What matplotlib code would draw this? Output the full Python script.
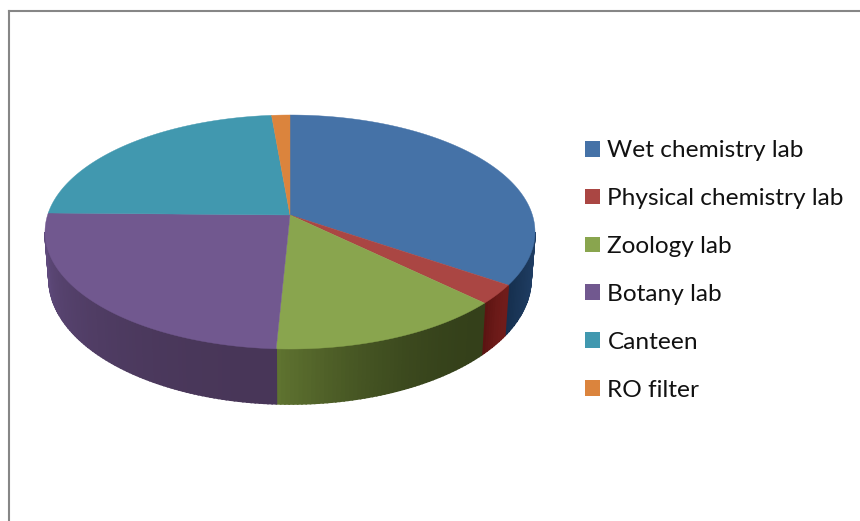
import numpy as np
import matplotlib
matplotlib.use("Agg")
import matplotlib.pyplot as plt
from matplotlib.patches import Patch
from matplotlib.colors import to_rgb

categories = ["Wet chemistry lab", "Physical chemistry lab", "Zoology lab", "Botany lab", "Canteen", "RO filter"]
values = [32.5, 2.9, 15.5, 26.7, 21.2, 1.2]
top_colors = ["#4572A7", "#AA4643", "#89A54E", "#71588F", "#4198AF", "#DB843D"]
side_left = ["#16304f", "#5c1412", "#5f7330", "#5f4a7c", "#24586a", "#8a5020"]
side_right = ["#1f3d63", "#701c1a", "#34401a", "#483658", "#24586a", "#8a5020"]

W, H = 860, 521
CX, CY, RX, RY = 290, 232, 245, 117
APEX_Y = 215                      # perspective: slices meet above the ellipse centre
BOT_CY, BOT_RX, BOT_RY = 279, 241, 125   # lower rim of the wall
plt.rcParams["font.family"] = ["Lato", "DejaVu Sans"]

fig = plt.figure(figsize=(W / 100, H / 100), dpi=100, facecolor="white")

# chart border: only the top and left edges are visible
border = fig.add_axes([8.5 / W, 0, 1 - 8.5 / W, 1 - 10.5 / H], facecolor="none")
border.set_xticks([]); border.set_yticks([])
for name, sp in border.spines.items():
    sp.set_visible(name in ("top", "left"))
    sp.set_color("#868686"); sp.set_linewidth(1.5)

# axes in which the unit circle maps on the pie's top ellipse
ax = fig.add_axes([0, 0, 1, 1], facecolor="none")
ax.set_xlim(-CX / RX, (W - CX) / RX)
ax.set_ylim(-(H - CY) / RY, CY / RY)
ax.axis("off")
apex = (CY - APEX_Y) / RY
bx, by, boff = BOT_RX / RX, BOT_RY / RY, (BOT_CY - CY) / RY

edges = 90 - 3.6 * np.cumsum([0] + values)

# side walls, from the value angles
for i in range(len(values)):
    a0, a1 = edges[i], edges[i + 1]          # clockwise: a0 > a1
    lo, hi = max(a1, -180), min(a0, 0)
    if lo < hi:
        n = max(2, int(hi - lo))
        steps = np.linspace(hi, lo, n + 1)
        cl, cr = np.array(to_rgb(side_left[i])), np.array(to_rgb(side_right[i]))
        for j in range(n):
            t = (j / max(n - 1, 1)) ** 2
            col = cr * (1 - t) + cl * t
            th = np.radians(np.linspace(steps[j], steps[j + 1], 3))
            xs = np.r_[np.cos(th), bx * np.cos(th[::-1])]
            ys = np.r_[np.sin(th), by * np.sin(th[::-1]) - boff]
            ax.fill(xs, ys, color=col, lw=1.2, zorder=1)

# top face
for i in range(len(values)):
    th = np.radians(np.linspace(edges[i], edges[i + 1], 200))
    ax.fill(np.r_[0, np.cos(th)], np.r_[apex, np.sin(th)],
            color=top_colors[i], lw=0.3, zorder=2)

fs = 17.6
handles = [Patch(facecolor=c, edgecolor="none") for c in top_colors]
leg = ax.legend(handles, categories, loc="center left",
                bbox_to_anchor=(585 / W, 1 - 270.5 / H), frameon=False,
                fontsize=fs, handlelength=0.62, handleheight=0.62,
                handletextpad=0.30, labelspacing=1.10, borderpad=0, borderaxespad=0,
                labelcolor="#111111")

fig.savefig("out.png", dpi=100, facecolor="white")
